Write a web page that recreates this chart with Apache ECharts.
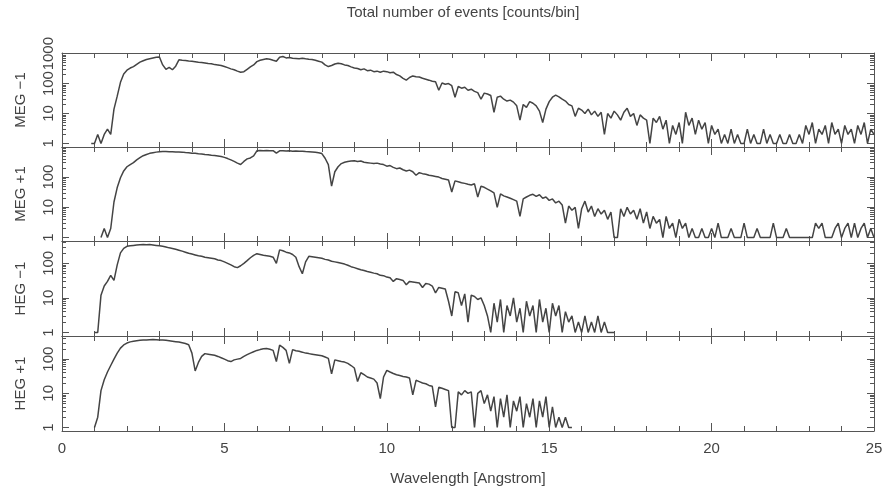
<!DOCTYPE html>
<html><head><meta charset="utf-8">
<script src="https://cdn.jsdelivr.net/npm/echarts@6/dist/echarts.min.js"></script>
<style>html,body{margin:0;padding:0;background:#fff}#c{width:882px;height:495px}</style>
</head><body><div id="c"></div>
<script>
// Bin grid: bin centres at i * binWidth (Angstrom)
const binWidth = 0.1;
const chartTitle = 'Total number of events [counts/bin]';
const xTitle = 'Wavelength [Angstrom]';
const xTickLabels = [0, 5, 10, 15, 20, 25];
const panelNames = ['MEG \u22121', 'MEG +1', 'HEG \u22121', 'HEG +1'];
const majorTickValues = [1, 10, 100, 1000];
const minorTickValues = [2,3,4,5,6,7,8,9,20,30,40,50,60,70,80,90,200,300,400,500,600,700,800,900];
const yMin = [0.76, 0.77, 0.79, 0.79];
const yMax = [1050, 990, 442, 475];

// counts per bin, one row per Angstrom (10 bins)
const megMinus1 = [
 null,null,null,null,null,null,null,null,null,1,
 1,2,1,2,3,2,14,38,110,210,
 280,330,370,440,520,580,640,680,720,760,
 770,420,300,350,290,380,620,600,590,570,
 560,540,520,510,490,470,460,430,420,400,
 370,340,310,290,260,240,250,300,360,420,
 540,600,640,680,650,600,560,760,800,720,
 740,700,690,680,700,670,650,640,600,560,
 520,420,370,400,450,480,460,420,400,360,
 330,320,290,310,270,280,250,260,240,260,
 250,230,240,200,180,150,130,160,180,170,
 165,150,140,130,120,115,60,105,95,100,
 85,35,80,70,75,60,65,55,50,30,
 48,45,40,11,35,38,30,26,28,24,
 18,6,20,16,25,22,18,12,5,14,
 25,35,41,36,30,26,20,18,8,15,
 13,10,14,9,12,8,11,2,10,7,
 12,9,6,11,15,8,10,4,9,7,
 6,1,7,5,8,3,6,1,4,2,
 5,1,11,4,7,2,6,3,5,1,
 4,2,3,1,2,1,3,1,2,1,
 1,3,1,2,1,1,3,1,2,1,
 1,2,1,1,2,1,1,2,1,4,
 2,5,1,3,2,4,1,5,2,3,
 1,4,2,3,1,4,2,5,1,3,
 2
];
const megPlus1 = [
 null,null,null,null,null,null,null,null,null,null,
 null,null,1,2,1,2,15,45,95,160,
 220,260,300,370,440,510,560,610,640,670,
 690,700,700,690,690,680,680,670,650,640,
 620,610,590,580,560,550,530,520,500,480,
 450,410,370,330,290,260,330,400,430,500,
 740,760,750,760,740,750,620,740,750,730,
 740,720,730,710,720,700,690,680,660,640,
 600,420,260,50,150,220,280,310,330,340,
 350,330,340,310,300,290,280,290,270,260,
 230,240,210,190,200,175,160,170,150,115,
 140,130,125,115,110,105,100,90,85,80,
 32,75,70,65,62,58,55,60,22,50,
 46,40,35,30,10,28,24,22,20,18,
 16,5,19,22,25,27,23,26,20,22,
 17,19,14,16,12,3,11,8,10,2,
 9,16,7,11,5,9,6,8,4,7,
 1,1,9,5,10,6,8,4,9,3,
 7,2,5,3,4,1,5,2,3,1,
 4,2,3,1,2,1,1,2,1,1,
 2,1,3,1,1,1,2,1,1,1,
 3,1,1,1,2,1,1,1,1,3,
 1,1,1,2,1,1,1,1,1,1,
 1,1,3,2,3,1,1,1,2,3,
 1,2,3,1,3,1,2,3,1,2,
 1
];
const hegMinus1 = [
 null,null,null,null,null,null,null,null,null,null,
 1,1,12,22,30,45,32,90,200,270,
 310,320,330,340,345,350,345,350,340,330,
 320,310,295,280,270,255,240,225,210,195,
 185,175,165,160,150,145,140,135,125,120,
 110,100,90,80,75,85,100,120,145,170,
 190,180,170,165,160,150,100,245,230,210,
 200,180,150,80,50,110,160,155,150,145,
 140,130,125,115,110,105,100,95,88,80,
 75,70,65,62,58,55,52,50,45,44,
 40,38,30,36,34,32,24,30,29,28,
 27,20,26,25,22,14,20,19,18,8,
 3,15,14,6,13,2,12,11,9,10,
 6,3,1,7,2,9,1,6,3,10,
 2,5,1,8,3,6,1,9,2,5,
 1,7,3,6,1,4,2,3,1,2,
 1,3,1,2,1,3,1,2,1,1,
 1
];
const hegPlus1 = [
 null,null,null,null,null,null,null,null,null,null,
 1,2,12,25,42,65,100,150,210,260,
 295,320,335,345,355,360,365,370,375,370,
 365,360,355,345,335,325,315,300,285,265,
 150,45,80,120,145,140,135,130,120,110,
 100,90,85,95,100,105,120,135,150,165,
 180,190,200,205,195,180,85,255,220,180,
 75,190,175,170,160,150,145,140,135,130,
 125,115,105,37,95,90,85,82,75,65,
 55,22,40,35,30,28,26,20,7,30,
 47,42,38,35,33,31,30,28,9,24,
 22,20,19,17,16,4,15,14,13,12,
 1,1,11,9,12,10,11,1,10,12,
 5,9,3,8,1,7,2,9,1,6,
 3,8,1,5,2,7,1,6,2,8,
 1,4,1,2,1,2,1,1
];

const panelData = [megMinus1, megPlus1, hegMinus1, hegPlus1];

// ---- layout / styling ----
const FONT = 'Liberation Sans, Arial, Helvetica, sans-serif';
const TEXT = '#444';
const AXIS = '#555';
const LINE = '#444';
const tops = [53, 147, 241, 336];
const heights = [94, 94, 95, 95];

const grids = [], xAxes = [], yAxes = [], series = [];
panelData.forEach((vals, k) => {
  grids.push({left: 62, width: 812, top: tops[k], height: heights[k], containLabel: false, outerBoundsMode: 'none'});
  const isLast = k === panelData.length - 1;
  const xCommon = {
    type: 'value', gridIndex: k, min: 0, max: 25, interval: 5,
    axisLine: {show: true, lineStyle: {color: AXIS, width: 1}},
    axisTick: {show: true, inside: true, length: 8, lineStyle: {color: AXIS}},
    minorTick: {show: true, splitNumber: 5, length: 5, lineStyle: {color: AXIS}},
    splitLine: {show: false}, minorSplitLine: {show: false}
  };
  xAxes.push(Object.assign({}, xCommon, {
    position: 'bottom',
    axisLabel: {show: isLast, customValues: xTickLabels, fontSize: 15, color: TEXT, fontFamily: FONT, margin: 10},
    name: isLast ? xTitle : '', nameLocation: 'middle', nameGap: 40,
    nameTextStyle: {fontSize: 15, color: TEXT, fontFamily: FONT}
  }));
  xAxes.push(Object.assign({}, xCommon, {position: 'top', axisLabel: {show: false}}));

  const yCommon = {type: 'log', logBase: 10, gridIndex: k, min: yMin[k], max: yMax[k],
    splitLine: {show: false}, minorTick: {show: false}, minorSplitLine: {show: false}};
  // left major (with labels + name)
  yAxes.push(Object.assign({}, yCommon, {
    position: 'left',
    axisLine: {show: true, lineStyle: {color: AXIS}},
    axisTick: {show: true, inside: true, length: 7, customValues: majorTickValues, lineStyle: {color: AXIS}},
    axisLabel: {show: true, customValues: majorTickValues, rotate: 90, fontSize: 15, color: TEXT, fontFamily: FONT, margin: 6,
      formatter: v => String(Math.round(v))},
    name: panelNames[k], nameLocation: 'middle', nameGap: 34, nameRotate: 90,
    nameTextStyle: {fontSize: 15, color: TEXT, fontFamily: FONT}
  }));
  // left minor
  yAxes.push(Object.assign({}, yCommon, {
    position: 'left', axisLine: {show: false},
    axisTick: {show: true, inside: true, length: 4, customValues: minorTickValues, lineStyle: {color: AXIS}},
    axisLabel: {show: false}
  }));
  // right major
  yAxes.push(Object.assign({}, yCommon, {
    position: 'right', axisLine: {show: true, lineStyle: {color: AXIS}},
    axisTick: {show: true, inside: true, length: 7, customValues: majorTickValues, lineStyle: {color: AXIS}},
    axisLabel: {show: false}
  }));
  // right minor
  yAxes.push(Object.assign({}, yCommon, {
    position: 'right', axisLine: {show: false},
    axisTick: {show: true, inside: true, length: 4, customValues: minorTickValues, lineStyle: {color: AXIS}},
    axisLabel: {show: false}
  }));

  const pts = vals.map((v, i) => [Math.round(i * binWidth * 100) / 100, v]);
  series.push({
    type: 'line', xAxisIndex: 2 * k, yAxisIndex: 4 * k, data: pts,
    showSymbol: false, connectNulls: false, clip: true,
    lineStyle: {color: LINE, width: 1.5}, silent: true
  });
});

const chart = echarts.init(document.getElementById('c'), null, {renderer: 'canvas'});
chart.setOption({
  animation: false,
  backgroundColor: '#fff',
  textStyle: {fontFamily: FONT},
  grid: grids, xAxis: xAxes, yAxis: yAxes, series: series,
  graphic: [{type: 'text', x: 463, y: 13, style: {text: chartTitle, fontSize: 15, fill: TEXT, fontFamily: FONT, align: 'center', verticalAlign: 'middle'}}]
});
</script></body></html>
